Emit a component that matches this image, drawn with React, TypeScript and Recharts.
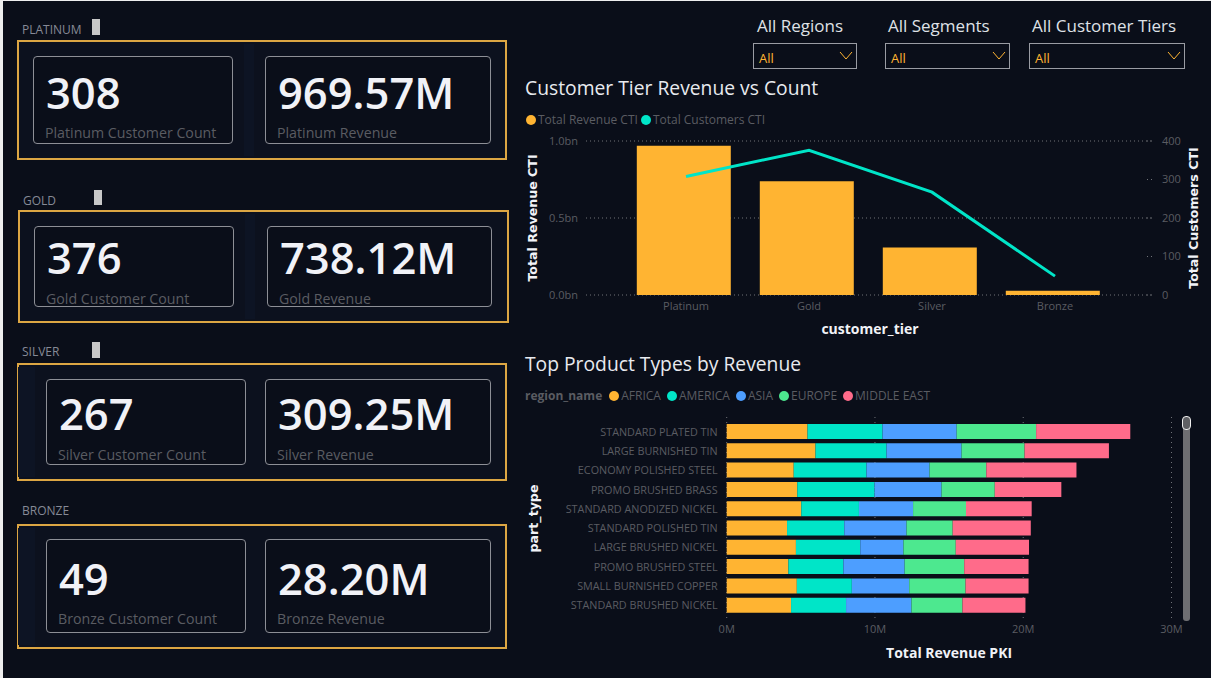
import { Bar, BarChart, CartesianGrid, ComposedChart, Legend, Line, XAxis, YAxis } from "recharts";

// customer tiers
const tiers = ["Platinum", "Gold", "Silver", "Bronze"];
const tierRevenueBn = [0.96957, 0.73812, 0.30925, 0.0282];
const tierCustomers = [308, 376, 267, 49];
const revenueLabels = ["969.57M", "738.12M", "309.25M", "28.20M"];

// top product types, revenue in millions per region
const partTypes = [
  "STANDARD PLATED TIN",
  "LARGE BURNISHED TIN",
  "ECONOMY POLISHED STEEL",
  "PROMO BRUSHED BRASS",
  "STANDARD ANODIZED NICKEL",
  "STANDARD POLISHED TIN",
  "LARGE BRUSHED NICKEL",
  "PROMO BRUSHED STEEL",
  "SMALL BURNISHED COPPER",
  "STANDARD BRUSHED NICKEL",
];
const africa = [5.45, 5.99, 4.52, 4.76, 5.03, 4.07, 4.67, 4.16, 4.73, 4.34];
const america = [5.06, 4.79, 4.91, 5.21, 3.89, 3.86, 4.34, 3.71, 3.71, 3.71];
const asia = [5.0, 5.06, 4.25, 4.52, 3.65, 4.2, 2.91, 4.13, 3.87, 4.41];
const europe = [5.36, 4.25, 3.83, 3.59, 3.57, 3.11, 3.53, 4.02, 3.8, 3.44];
const middleEast = [6.35, 5.69, 6.08, 4.49, 4.43, 5.27, 4.94, 4.34, 4.25, 4.25];

const slicerTitles = ["All Regions", "All Segments", "All Customer Tiers"];

const AMBER = "#ffb432";
const TEAL = "#00e5c8";
const BLUE = "#4d9eff";
const GREEN = "#4de88f";
const PINK = "#ff6b8a";
const BG = "#0a0e19";
const MUTED = "#5a5c62";
const FONT = "'Open Sans', sans-serif";

const tierData = tiers.map((tier, i) => ({ tier, revenue: tierRevenueBn[i], customers: tierCustomers[i] }));
const partData = partTypes.map((part, i) => ({
  part,
  AFRICA: africa[i],
  AMERICA: america[i],
  ASIA: asia[i],
  EUROPE: europe[i],
  "MIDDLE EAST": middleEast[i],
}));

const regionSeries = [
  { key: "AFRICA", color: AMBER },
  { key: "AMERICA", color: TEAL },
  { key: "ASIA", color: BLUE },
  { key: "EUROPE", color: GREEN },
  { key: "MIDDLE EAST", color: PINK },
];

// left hand KPI panels
const panels = [
  { label: [22, 30], handle: [92, 19, 16], box: [17, 40, 490, 120], strip: [244, 10], a: [33, 56, 200, 88], b: [265, 56, 226, 88], valueY: 92.7, captionY: 132.7 },
  { label: [23, 201], handle: [94, 190, 15], box: [18, 210, 491, 113], strip: [245, 10], a: [34, 226, 200, 81], b: [267, 226, 225, 81], valueY: 258, captionY: 298.7 },
  { label: [22, 352], handle: [92, 342, 16], box: [17, 363, 490, 118], strip: [18, 17], a: [46, 379, 200, 86], b: [265, 379, 226, 86], valueY: 414, captionY: 454.7 },
  { label: [22, 511], handle: null, box: [17, 524, 490, 125], strip: [18, 17], a: [46, 539, 200, 94], b: [265, 539, 226, 94], valueY: 578.7, captionY: 618.7 },
];

const pos = (x: number, y: number, w?: number, h?: number) => ({ position: "absolute" as const, left: x, top: y, width: w, height: h });

function Card({ rect, value, caption, valueY, captionY }: { rect: number[]; value: string; caption: string; valueY: number; captionY: number }) {
  const [x, y, w, h] = rect;
  return (
    <div style={{ ...pos(x, y, w, h), boxSizing: "border-box", border: "1px solid #8d8f96", borderRadius: 4, background: BG }}>
      <div style={{ position: "absolute", left: 12, top: valueY - y - 30, fontSize: 43.5, lineHeight: "58px", fontWeight: 600, color: "#f1f2f7", whiteSpace: "nowrap" }}>{value}</div>
      <div style={{ position: "absolute", left: 11, top: captionY - y - 11, fontSize: 14.2, lineHeight: "20px", color: MUTED, whiteSpace: "nowrap" }}>{caption}</div>
    </div>
  );
}

function Slicer({ title, titleX, x, w }: { title: string; titleX: number; x: number; w: number }) {
  return (
    <>
      <div style={{ ...pos(titleX, 14), fontSize: 17, lineHeight: "24px", color: "#dfe1e6", whiteSpace: "nowrap" }}>{title}</div>
      <div style={{ ...pos(x, 43, w, 26), boxSizing: "border-box", border: "1px solid #9a9ca3" }}>
        <span style={{ position: "absolute", left: 5, top: 5, fontSize: 13, lineHeight: "18px", color: AMBER }}>All</span>
        <svg style={{ position: "absolute", right: 3, top: 7 }} width="14" height="9">
          <polyline points="1,1 7,8 13,1" fill="none" stroke={AMBER} strokeWidth="1" />
        </svg>
      </div>
    </>
  );
}

function legendContent(gap: number, title?: string) {
  return ({ payload }: any) => (
    <div style={{ display: "flex", alignItems: "center", fontFamily: FONT, fontSize: 12, color: MUTED, whiteSpace: "nowrap" }}>
      {title && <b style={{ marginRight: 7 }}>{title}</b>}
      {(payload || []).map((item: any) => (
        <span key={item.value} style={{ display: "flex", alignItems: "center", marginRight: gap }}>
          <span style={{ width: 10, height: 10, borderRadius: 5, background: item.color, marginRight: 2 }} />
          {item.value}
        </span>
      ))}
    </div>
  );
}

// plain svg text so the long part names stay on one line
function PartTick({ x, y, payload }: any) {
  return (
    <text x={x} y={y} dy={4} textAnchor="end" fill={MUTED} fontSize={10.8} fontFamily={FONT}>
      {payload.value}
    </text>
  );
}

const tick = { fill: MUTED, fontSize: 11, fontFamily: FONT };
const wideTitle = { fill: "#f1f2f7", fontSize: 12.6, fontWeight: 700, fontFamily: "'DejaVu Sans', sans-serif" };
const xTitle = { fill: "#f1f2f7", fontSize: 14, fontWeight: 700, fontFamily: FONT };

export default function App() {
  return (
    <div style={{ ...pos(0, 0, 1211, 678), background: "#eeeeee", overflow: "hidden", fontFamily: FONT }}>
      <div style={{ ...pos(3, 1, 1208, 677), background: BG }} />

      {panels.map((p, i) => (
        <div key={tiers[i]}>
          <div style={{ ...pos(p.label[0], p.label[1] - 9), fontSize: 12, lineHeight: "18px", color: "#868a96" }}>{tiers[i].toUpperCase()}</div>
          {p.handle && <div style={{ ...pos(p.handle[0], p.handle[1], 8, p.handle[2]), background: "#c8c8c8" }} />}
          <div style={{ ...pos(p.box[0], p.box[1], p.box[2], p.box[3]), boxSizing: "border-box", border: "2px solid #dca643", background: "#0c111e" }} />
          <div style={{ ...pos(p.strip[0], p.box[1] + 4, p.strip[1], p.box[3] - 8), background: "#0d1424" }} />
          <Card rect={p.a} value={String(tierCustomers[i])} caption={`${tiers[i]} Customer Count`} valueY={p.valueY} captionY={p.captionY} />
          <Card rect={p.b} value={revenueLabels[i]} caption={`${tiers[i]} Revenue`} valueY={p.valueY} captionY={p.captionY} />
        </div>
      ))}

      <Slicer title={slicerTitles[0]} titleX={757} x={753} w={104} />
      <Slicer title={slicerTitles[1]} titleX={888} x={885} w={125} />
      <Slicer title={slicerTitles[2]} titleX={1032} x={1029} w={156} />

      <div style={{ ...pos(525, 74), fontSize: 19.3, lineHeight: "28px", color: "#e8eaef", whiteSpace: "nowrap" }}>Customer Tier Revenue vs Count</div>
      <div style={{ ...pos(525, 350), fontSize: 19.3, lineHeight: "28px", color: "#e8eaef", whiteSpace: "nowrap" }}>Top Product Types by Revenue</div>

      <div style={pos(520, 105)}>
        <ComposedChart width={690} height={235} data={tierData} margin={{ top: 36, right: 0, bottom: 0, left: 0 }}>
          <CartesianGrid xAxisId="tick" yAxisId="rev" vertical={false} stroke="#707278" strokeDasharray="1 3" />
          <XAxis
            xAxisId="tick"
            dataKey="tier"
            height={45}
            axisLine={false}
            tickLine={false}
            tickSize={0}
            tickMargin={7}
            padding={{ left: 38.5, right: 37.5 }}
            tick={tick}
            label={{ value: "customer_tier", position: "insideBottom", offset: 6, style: xTitle }}
          />
          <XAxis xAxisId="bar" dataKey="tier" hide height={0} padding={{ left: 36.8, right: 39.2 }} />
          <YAxis
            yAxisId="rev"
            width={66}
            domain={[0, 1]}
            ticks={[0, 0.5, 1]}
            axisLine={false}
            tickLine={false}
            tickSize={0}
            tickMargin={8}
            tick={tick}
            tickFormatter={(v: number) => `${v.toFixed(1)}bn`}
            label={{ value: "Total Revenue CTI", angle: -90, position: "insideLeft", offset: 13, textAnchor: "middle", style: wideTitle }}
          />
          <YAxis
            yAxisId="cust"
            orientation="right"
            width={56}
            domain={[0, 400]}
            ticks={[0, 100, 200, 300, 400]}
            axisLine={false}
            tickLine={{ stroke: "#707278", strokeDasharray: "1 3" }}
            tickSize={-7}
            tickMargin={15}
            tick={tick}
            label={{ value: "Total Customers CTI", angle: -90, position: "insideRight", offset: 16, textAnchor: "middle", style: wideTitle }}
          />
          <Legend
            verticalAlign="middle"
            align="center"
            wrapperStyle={{ top: 6, left: 6, width: "auto" }}
            itemSorter={null}
            content={legendContent(3)}
          />
          <Bar name="Total Revenue CTI" xAxisId="bar" yAxisId="rev" dataKey="revenue" fill={AMBER} barSize={94} isAnimationActive={false} />
          <Line name="Total Customers CTI" xAxisId="tick" yAxisId="cust" dataKey="customers" stroke={TEAL} strokeWidth={3} dot={false} type="linear" isAnimationActive={false} />
        </ComposedChart>
      </div>

      <div style={pos(520, 385)}>
        <BarChart width={680} height={285} data={partData} layout="vertical" barSize={15} margin={{ top: 32, right: 28.5, bottom: 0, left: 0 }}>
          <CartesianGrid horizontal={false} stroke="#707278" strokeDasharray="1 4" />
          <XAxis
            type="number"
            height={50}
            domain={[0, 30]}
            ticks={[0, 10, 20, 30]}
            axisLine={false}
            tickLine={false}
            tickSize={0}
            tickMargin={5}
            tick={tick}
            tickFormatter={(v: number) => `${v}M`}
            label={{ value: "Total Revenue PKI", position: "insideBottom", offset: 12, style: xTitle }}
          />
          <YAxis
            type="category"
            dataKey="part"
            width={206.7}
            interval={0}
            padding={{ top: 5, bottom: 5 }}
            axisLine={false}
            tickLine={false}
            tickSize={0}
            tickMargin={9}
            tick={<PartTick />}
            label={{ value: "part_type", angle: -90, position: "insideLeft", offset: 14, textAnchor: "middle", style: wideTitle }}
          />
          <Legend
            verticalAlign="middle"
            align="center"
            wrapperStyle={{ top: 2, left: 5, width: "auto" }}
            itemSorter={null}
            content={legendContent(6, "region_name")}
          />
          {regionSeries.map((s) => (
            <Bar key={s.key} dataKey={s.key} stackId="region" fill={s.color} isAnimationActive={false} />
          ))}
        </BarChart>
      </div>

      {/* visual's scrollbar */}
      <div style={{ ...pos(1183, 417, 6.5, 204), background: "#6e6e72", borderRadius: 3 }} />
      <div style={{ ...pos(1182, 416, 8.5, 14), boxSizing: "border-box", border: "1.5px solid #eeeeee", background: "#5f6064", borderRadius: 4 }} />
    </div>
  );
}
